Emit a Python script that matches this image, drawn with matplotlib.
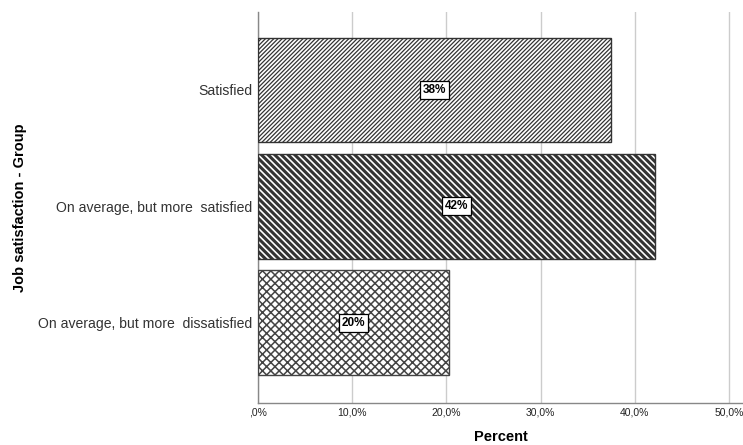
import matplotlib
matplotlib.use("Agg")
import matplotlib.pyplot as plt
from matplotlib.ticker import FuncFormatter

categories = ["Satisfied", "On average, but more  satisfied", "On average, but more  dissatisfied"]
values = [37.5, 42.2, 20.3]
bar_labels = ["38%", "42%", "20%"]
x_ticks = [0, 10, 20, 30, 40, 50]

plt.rcParams['font.family'] = ['Liberation Sans', 'DejaVu Sans']

fig = plt.figure(figsize=(7.43, 4.45), dpi=100)
ax = fig.add_axes([258/743, 1-403/445, (743-258)/743, (403-12)/445])

hatches = ['/' * 8, '\\' * 5, 'x' * 4]
hatch_lw = [0.9, 2.2, 1.1]
ypos = list(range(len(categories)))
bars = ax.barh(ypos, values, height=0.9, color='white', edgecolor='#333333', linewidth=1.0, zorder=3)
for b, h, lw in zip(bars, hatches, hatch_lw):
    b.set_hatch(h)
    try:
        b.set_hatch_linewidth(lw)
    except Exception:
        pass
bars[2].set_edgecolor('#444444')

for y, v, lab in zip(ypos, values, bar_labels):
    ax.text(v/2, y, lab, ha='center', va='center', fontsize=8.5, fontweight='bold', zorder=5,
            bbox=dict(boxstyle='square,pad=0.25', facecolor='white', edgecolor='black', linewidth=0.9))

ax.set_xlim(0, 51.5)
ax.set_ylim(2.69, -0.67)
ax.set_yticks(ypos)
ax.set_yticklabels(categories, fontsize=10.1, color='#333333')
ax.set_xticks(x_ticks)
ax.xaxis.set_major_formatter(FuncFormatter(lambda v, p: (f"{v:.1f}%".replace('.', ',') if v != 0 else ",0%")))
ax.tick_params(axis='both', length=0)
ax.tick_params(axis='x', labelsize=7.5, pad=3, labelcolor='#222222')
ax.tick_params(axis='y', pad=4)
ax.grid(axis='x', color='#cccccc', linewidth=1.0, zorder=0)
ax.set_axisbelow(True)
for s in ['top', 'right']:
    ax.spines[s].set_visible(False)
for s in ['left', 'bottom']:
    ax.spines[s].set_color('#888888')
    ax.spines[s].set_linewidth(1.0)

ax.set_xlabel("Percent", fontsize=10.5, fontweight='bold', labelpad=9)
fig.text(0.027, (1-403/445 + 1-12/445)/2, "Job satisfaction - Group", rotation=90, ha='center', va='center',
         fontsize=10.5, fontweight='bold')

fig.savefig("out.png", dpi=100)
